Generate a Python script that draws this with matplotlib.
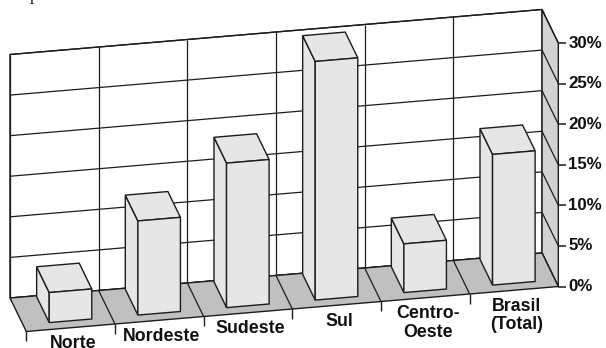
import matplotlib
matplotlib.use("Agg")
import matplotlib.pyplot as plt
from matplotlib.transforms import Affine2D, offset_copy
from matplotlib.patches import Polygon

# Data
regions = ["Norte", "Nordeste", "Sudeste", "Sul", "Centro-\nOeste", "Brasil\n(Total)"]
values = [3.7, 11.6, 17.8, 29.4, 6.0, 16.1]
ticks = [0, 5, 10, 15, 20, 25, 30]
tick_labels = [f"{t}%" for t in ticks]

W, H = 606, 348
fig = plt.figure(figsize=(W / 100, H / 100), dpi=100)
ax = fig.add_axes([0, 0, 1, 1])
ax.set_axis_off()

# Oblique projection: category axis runs right and slightly up, value axis up,
# depth axis toward the viewer (right and down).
n = len(regions)
CAT_DX, CAT_DY = 88.67, 7.5          # px per category step
VAL_DY = 243.5 / ticks[-1]           # px per percentage point
DEPTH_DX, DEPTH_DY = 16.3, -33.5     # px from back wall to front edge
ORIGIN = (10, 50)                    # back-left corner of the floor, in px

wall = Affine2D.from_values(CAT_DX, CAT_DY, 0, VAL_DY, *ORIGIN)
to_fig = Affine2D().scale(1 / W, 1 / H) + fig.transFigure
T = wall + to_fig

du_depth = DEPTH_DX / CAT_DX
dv_depth = (DEPTH_DY - CAT_DY * du_depth) / VAL_DY


def P(u, v, d=0.0):
    """Point at category position u, value v and depth d (0 = back, 1 = front)."""
    return (u + du_depth * d, v + dv_depth * d)


EDGE = "#1c1c1c"
LW = 1.0
vmax = ticks[-1]


def poly(pts, fc, lw=LW, z=1):
    ax.add_patch(Polygon(pts, closed=True, facecolor=fc, edgecolor=EDGE,
                         linewidth=lw, transform=T, clip_on=False, zorder=z,
                         joinstyle="miter"))


def seg(a, b, lw=0.9, z=2):
    ax.plot([a[0], b[0]], [a[1], b[1]], color=EDGE, lw=lw, transform=T,
            clip_on=False, zorder=z, solid_capstyle="butt")


# Back wall with grid
poly([P(0, 0), P(n, 0), P(n, vmax), P(0, vmax)], "white", z=1)
for t in ticks:
    seg(P(0, t), P(n, t))
for k in range(n + 1):
    seg(P(k, 0), P(k, vmax))

# Right side wall
poly([P(n, 0, 0), P(n, 0, 1), P(n, vmax, 1), P(n, vmax, 0)], "#d3d3d3", z=3)
for t in ticks:
    seg(P(n, t, 0), P(n, t, 1), z=4)

# Value ticks and labels on the front edge of the side wall
tick_tr = offset_copy(T, fig=fig, x=4, y=0, units="dots")
lab_tr = offset_copy(T, fig=fig, x=10, y=0, units="dots")
for t, lab in zip(ticks, tick_labels):
    x, y = P(n, t, 1)
    ax.plot([x], [y], marker="_", markersize=5.8, markeredgewidth=1.1,
            color=EDGE, transform=tick_tr, clip_on=False, zorder=4)
    ax.text(x, y, lab, transform=lab_tr, ha="left", va="center",
            fontsize=12.2, fontweight="bold", family="Liberation Sans",
            color="#111111")

# Floor
poly([P(0, 0, 0), P(n, 0, 0), P(n, 0, 1), P(0, 0, 1)], "#c0c0c0", z=5)
for k in range(1, n):
    seg(P(k, 0, 0), P(k, 0, 1), z=6)
down_tr = offset_copy(T, fig=fig, x=0, y=-4.5, units="dots")
for k in range(n):
    x, y = P(k, 0, 1)
    ax.plot([x], [y], marker="|", markersize=6.5, markeredgewidth=1.0,
            color=EDGE, transform=down_tr, clip_on=False, zorder=6)

# Bars
BAR_U0, BAR_U1 = 0.295, 0.775
BAR_D0, BAR_D1 = 0.03, 0.80
BAR_FC = "#e6e6e6"
for i, val in enumerate(values):
    u0, u1 = i + BAR_U0, i + BAR_U1
    z = 10 + i
    poly([P(u0, 0, BAR_D0), P(u0, 0, BAR_D1), P(u0, val, BAR_D1), P(u0, val, BAR_D0)], BAR_FC, z=z)
    poly([P(u0, val, BAR_D0), P(u1, val, BAR_D0), P(u1, val, BAR_D1), P(u0, val, BAR_D1)], BAR_FC, z=z)
    poly([P(u0, 0, BAR_D1), P(u1, 0, BAR_D1), P(u1, val, BAR_D1), P(u0, val, BAR_D1)], BAR_FC, z=z)

# Category labels under the front edge
cat_tr = offset_copy(T, fig=fig, x=2.5, y=-7.5, units="dots")
for i, name in enumerate(regions):
    x, y = P(i + 0.5, 0, 1)
    ax.text(x, y, name, transform=cat_tr, ha="center", va="top",
            fontsize=12.8, fontweight="bold", family="Liberation Sans",
            color="#111111", linespacing=1.1, multialignment="center")

# Fragment of the heading above the chart
fig.text(34 / W, 1 + 0.5 / H, "p", ha="center", va="baseline",
         fontsize=12, family="Liberation Serif", color="#111111")

fig.savefig("out.png", dpi=100)
